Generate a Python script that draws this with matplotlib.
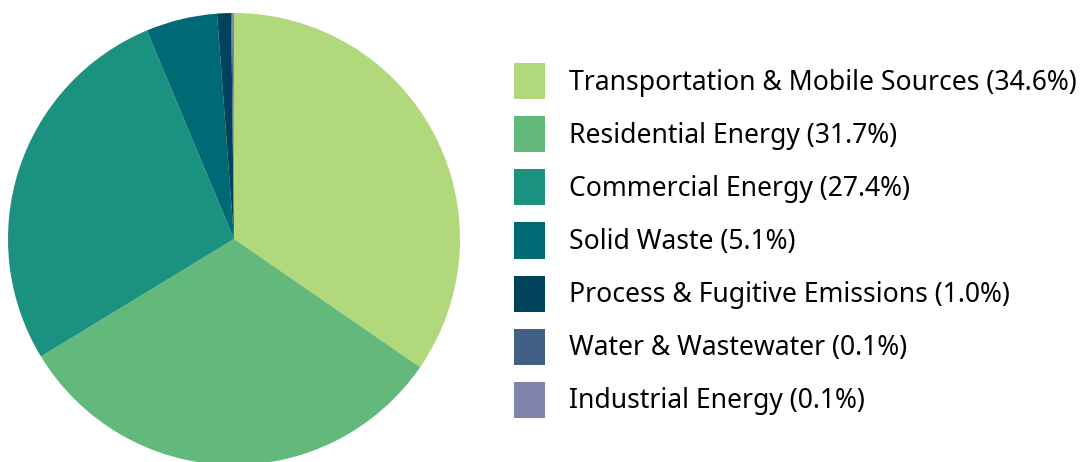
import matplotlib
matplotlib.use("Agg")
import matplotlib.pyplot as plt
from matplotlib.patches import Patch

plt.rcParams['font.family'] = ['Noto Sans', 'DejaVu Sans']

# данные
sectors = ["Transportation & Mobile Sources", "Residential Energy", "Commercial Energy",
           "Solid Waste", "Process & Fugitive Emissions", "Water & Wastewater",
           "Industrial Energy"]
shares = [34.6, 31.7, 27.4, 5.1, 1.0, 0.1, 0.1]
colors = ["#b1d87a", "#63b87c", "#1b917f", "#006a74", "#00425a", "#426086", "#7e84ab"]

W, H = 1081, 462
fig = plt.figure(figsize=(W / 100, H / 100), dpi=100)

# круг: центр (234, 239), радиус ~226 px
cx, cy, r = 234, 239, 226
ax = fig.add_axes([(cx - r) / W, (H - cy - r) / H, 2 * r / W, 2 * r / H])
ax.pie(shares, colors=colors, startangle=90, counterclock=False,
       wedgeprops=dict(linewidth=0))
ax.set_aspect('equal')
ax.set_xlim(-1, 1)
ax.set_ylim(-1, 1)

# легенда
handles = [Patch(facecolor=c, edgecolor='none') for c in colors]
labels = [f"{s} ({v:.1f}%)" for s, v in zip(sectors, shares)]
fs = 19.1
fig.legend(handles, labels, loc='upper left', bbox_to_anchor=(514 / W, 1 - 63 / H),
           frameon=False, fontsize=fs, handlelength=1.16, handleheight=1.72,
           handletextpad=0.9, labelspacing=0.64, borderpad=0, borderaxespad=0)

fig.savefig("out.png", dpi=100)
